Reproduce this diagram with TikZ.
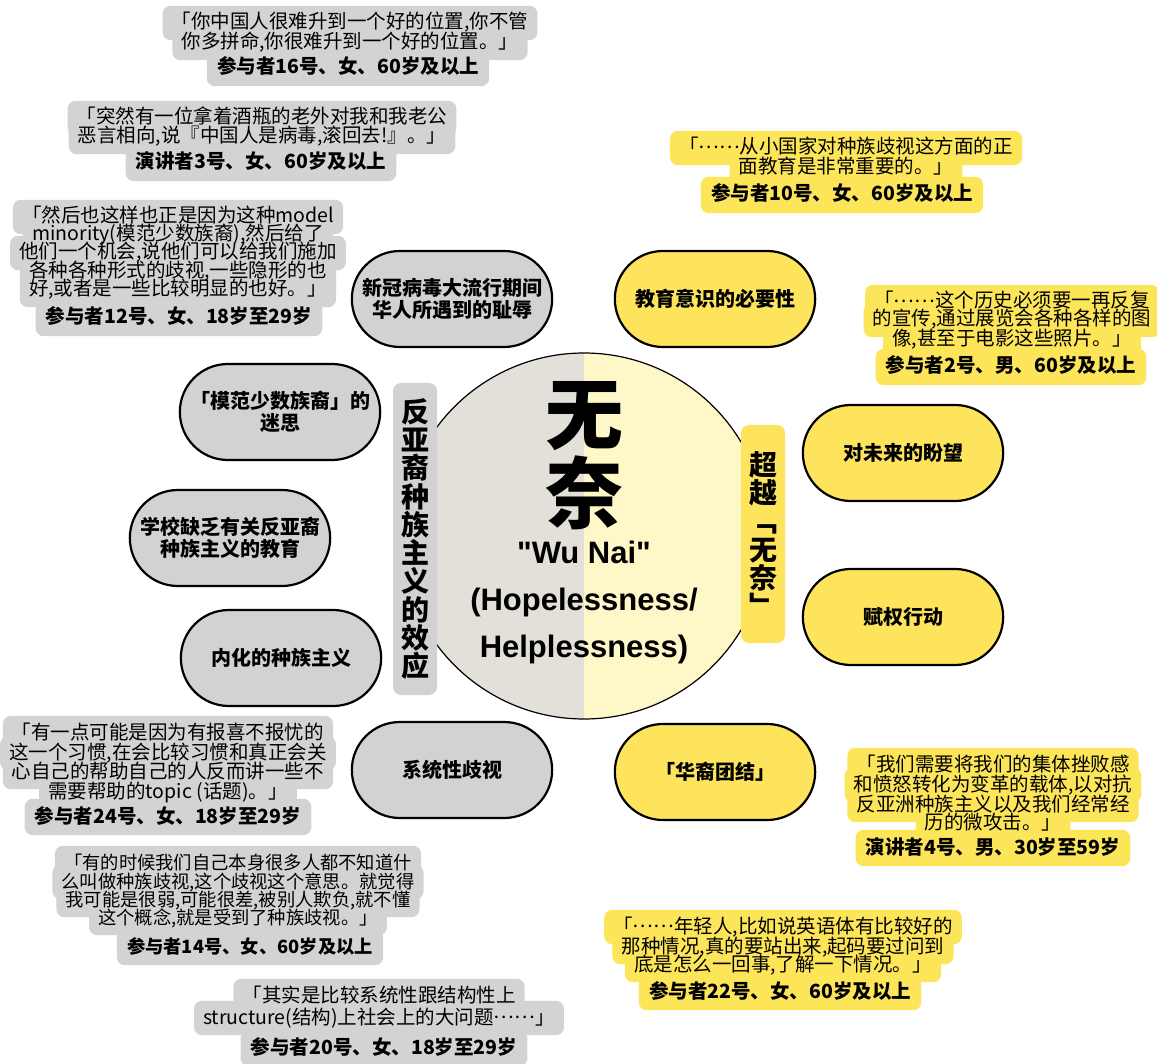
\documentclass[tikz,border=0pt]{standalone}
\usepackage{fontspec}
\newfontfamily\cjk{Noto Sans CJK SC}
\newfontfamily\latf{Liberation Sans}
\usetikzlibrary{shapes.misc}
\pgfdeclarelayer{bg}
\pgfsetlayers{bg,main}
\definecolor{gbox}{HTML}{D3D3D3}
\definecolor{ybox}{HTML}{FDE55A}
\definecolor{gpill}{HTML}{D2D2D2}
\definecolor{ypill}{HTML}{FEE45C}
\definecolor{lhalf}{HTML}{E3DFD9}
\definecolor{rhalf}{HTML}{FEF8C8}
\newcommand\middots{\raisebox{0.27em}{……}}
\begin{document}
\begin{tikzpicture}[x=1pt,y=-1pt,
  qline/.style={font=\cjk\fontsize{19.5}{19.5}\selectfont, inner xsep=9pt, inner ysep=0pt, text height=15pt, text depth=3pt, minimum height=34pt},
  qattr/.style={font=\cjk\bfseries\fontsize{19.5}{19.5}\selectfont, inner xsep=10pt, inner ysep=0pt, text height=15pt, text depth=3pt, minimum height=36pt},
  small/.style={font=\cjk\fontsize{18.3}{18.3}\selectfont},
  smallb/.style={font=\cjk\bfseries\fontsize{18.3}{18.3}\selectfont},
  pill/.style={rounded rectangle, draw=black, line width=2.2pt, minimum width=207pt, minimum height=96pt, align=center, font=\cjk\bfseries\fontsize{20}{22.5}\selectfont},
  vlab/.style={rounded corners=8pt, minimum width=44pt, inner sep=0pt, align=center, font=\cjk\bfseries\fontsize{28}{28.3}\selectfont}
]
\begin{pgfonlayer}{bg}
\fill[white] (0,0) rectangle (1157,1064);
\end{pgfonlayer}
\useasboundingbox (0,0) rectangle (1157,1064);

% central circle
\coordinate (cc) at (584,536);
\begin{scope}
\clip (cc) circle[radius=183pt];
\fill[lhalf] (400,350) rectangle (584,722);
\fill[rhalf] (584,350) rectangle (770,722);
\end{scope}
\node[circle, draw=black, line width=1.2pt, minimum size=366pt, inner sep=0pt] (hub) at (cc) {};
\node[font=\cjk\bfseries\fontsize{78}{79}\selectfont, align=center] (wunai) at (584,456) {无\\奈};
\node[font=\latf\bfseries\fontsize{31}{47}\selectfont, align=center] (wuen) at (584,602) {"Wu Nai"\\(Hopelessness/\\Helplessness)};

% vertical labels
\node[vlab, fill=gpill, minimum height=312pt] (lvl) at (415,539) {反\\亚\\裔\\种\\族\\主\\义\\的\\效\\应};
\node[vlab, fill=ypill, minimum height=218pt] (rvl) at (763,534) {超\\越\\﹁\\无\\奈\\﹂};

% gray pills
\node[pill, fill=gpill] (g1) at (452,299) {新冠病毒大流行期间\\华人所遇到的耻辱};
\node[pill, fill=gpill] (g2) at (280,412) {「模范少数族裔」的\\迷思};
\node[pill, fill=gpill] (g3) at (230,538) {学校缺乏有关反亚裔\\种族主义的教育};
\node[pill, fill=gpill] (g4) at (281,658) {内化的种族主义};
\node[pill, fill=gpill] (g5) at (452,770) {系统性歧视};

% yellow pills
\node[pill, fill=ypill] (y1) at (715,299) {教育意识的必要性};
\node[pill, fill=ypill] (y2) at (903,453) {对未来的盼望};
\node[pill, fill=ypill] (y3) at (903,617) {赋权行动};
\node[pill, fill=ypill] (y4) at (715,772) {「华裔团结」};

% gray quotes
\node[qline] (q1a) at (350,23) {「你中国人很难升到一个好的位置,你不管};
\node[qline] (q1b) at (350,43) {你多拼命,你很难升到一个好的位置。」};
\node[qattr] (q1c) at (348,68) {参与者16号、女、60岁及以上};

\node[qline] (q2a) at (262,118) {「突然有一位拿着酒瓶的老外对我和我老公};
\node[qline] (q2b) at (262,137) {恶言相向,说『中国人是病毒,滚回去!』。」};
\node[qattr] (q2c) at (261,163) {演讲者3号、女、60岁及以上};

\node[qline] (q3a) at (178,217) {「然后也这样也正是因为这种model};
\node[qline] (q3b) at (178,235) {minority(模范少数族裔),然后给了};
\node[qline] (q3c) at (178,253) {他们一个机会,说他们可以给我们施加};
\node[qline] (q3d) at (178,272) {各种各种形式的歧视,一些隐形的也};
\node[qline] (q3e) at (178,290) {好,或者是一些比较明显的也好。」};
\node[qattr] (q3f) at (179,318) {参与者12号、女、18岁至29岁};

\node[qline] (q4a) at (168,733) {「有一点可能是因为有报喜不报忧的};
\node[qline] (q4b) at (168,753) {这一个习惯,在会比较习惯和真正会关};
\node[qline] (q4c) at (168,772) {心自己的帮助自己的人反而讲一些不};
\node[qline] (q4d) at (168,792) {需要帮助的topic (话题)。」};
\node[qattr] (q4e) at (168,817) {参与者24号、女、18岁至29岁};

\node[qline, small] (q5a) at (238,863) {「有的时候我们自己本身很多人都不知道什};
\node[qline, small] (q5b) at (238,882) {么叫做种族歧视,这个歧视这个意思。就觉得};
\node[qline, small] (q5c) at (238,900) {我可能是很弱,可能很差,被别人欺负,就不懂};
\node[qline, small] (q5d) at (238,918) {这个概念,就是受到了种族歧视。」};
\node[qattr, smallb] (q5e) at (250,947) {参与者14号、女、60岁及以上};

\node[qline] (q6a) at (379,996) {「其实是比较系统性跟结构性上};
\node[qline] (q6b) at (379,1018) {structure(结构)上社会上的大问题\middots」};
\node[qattr] (q6c) at (384,1048) {参与者20号、女、18岁至29岁};

% yellow quotes
\node[qline] (q7a) at (846,148) {「\middots 从小国家对种族歧视这方面的正};
\node[qline] (q7b) at (846,168) {面教育是非常重要的。」};
\node[qattr] (q7c) at (842,195) {参与者10号、女、60岁及以上};

\node[qline] (q8a) at (1012,302) {「\middots 这个历史必须要一再反复};
\node[qline] (q8b) at (1012,320) {的宣传,通过展览会各种各样的图};
\node[qline] (q8c) at (1012,340) {像,甚至于电影这些照片。」};
\node[qattr] (q8d) at (1011,367) {参与者2号、男、60岁及以上};

\node[qline] (q9a) at (993,765) {「我们需要将我们的集体挫败感};
\node[qline] (q9b) at (993,785) {和愤怒转化为变革的载体,以对抗};
\node[qline] (q9c) at (993,805) {反亚洲种族主义以及我们经常经};
\node[qline] (q9d) at (993,823) {历的微攻击。」};
\node[qattr] (q9e) at (993,848) {演讲者4号、男、30岁至59岁};

\node[qline] (q10a) at (783,927) {「\middots 年轻人,比如说英语体有比较好的};
\node[qline] (q10b) at (783,947) {那种情况,真的要站出来,起码要过问到};
\node[qline] (q10c) at (783,965) {底是怎么一回事,了解一下情况。」};
\node[qattr] (q10d) at (780,992) {参与者22号、女、60岁及以上};

\begin{pgfonlayer}{bg}
\foreach \n in {q1a,q1b,q1c,q2a,q2b,q2c,q3a,q3b,q3c,q3d,q3e,q3f,q4a,q4b,q4c,q4d,q4e,q5a,q5b,q5c,q5d,q5e,q6a,q6b,q6c}
  \fill[gbox, rounded corners=8pt] (\n.south west) rectangle (\n.north east);
\foreach \n in {q7a,q7b,q7c,q8a,q8b,q8c,q8d,q9a,q9b,q9c,q9d,q9e,q10a,q10b,q10c,q10d}
  \fill[ybox, rounded corners=8pt] (\n.south west) rectangle (\n.north east);
\end{pgfonlayer}
\end{tikzpicture}
\end{document}
